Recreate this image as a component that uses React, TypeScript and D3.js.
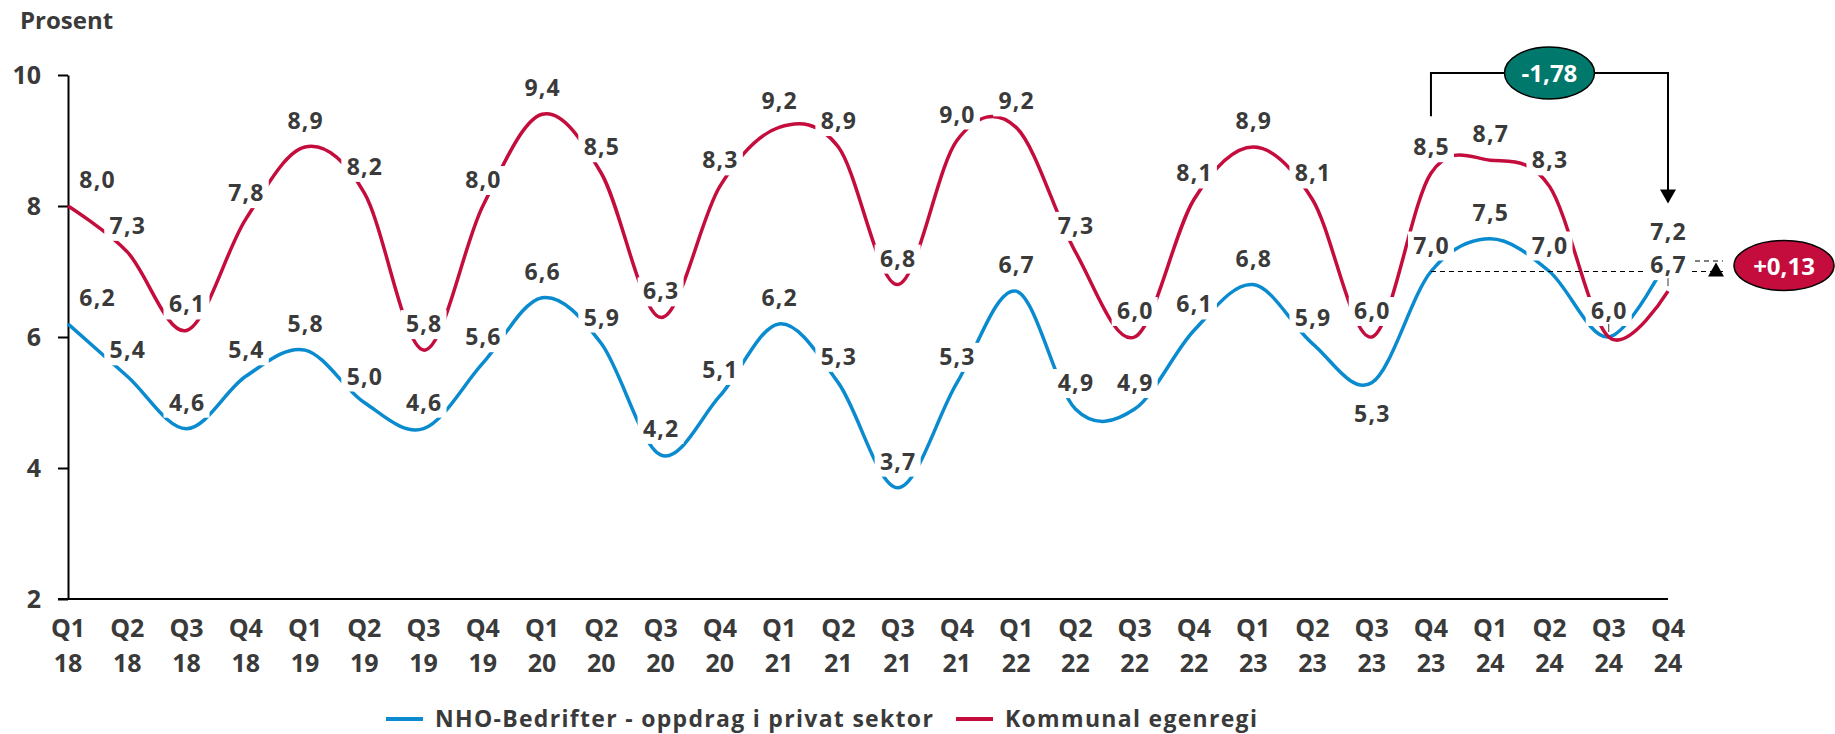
import { useEffect, useRef } from "react";
import * as d3 from "d3";

// ── Data ──────────────────────────────────────────────────────────────────
const categories = [
  "Q1 18", "Q2 18", "Q3 18", "Q4 18",
  "Q1 19", "Q2 19", "Q3 19", "Q4 19",
  "Q1 20", "Q2 20", "Q3 20", "Q4 20",
  "Q1 21", "Q2 21", "Q3 21", "Q4 21",
  "Q1 22", "Q2 22", "Q3 22", "Q4 22",
  "Q1 23", "Q2 23", "Q3 23", "Q4 23",
  "Q1 24", "Q2 24", "Q3 24", "Q4 24",
];

const nhoValues = [
  6.2, 5.4, 4.6, 5.4, 5.8, 5.0, 4.6, 5.6, 6.6, 5.9, 4.2, 5.1, 6.2, 5.3,
  3.7, 5.3, 6.7, 4.9, 4.9, 6.1, 6.8, 5.9, 5.3, 7.0, 7.5, 7.0, 6.0, 7.2,
];

const kommunalValues = [
  8.0, 7.3, 6.1, 7.8, 8.9, 8.2, 5.8, 8.0, 9.4, 8.5, 6.3, 8.3, 9.2, 8.9,
  6.8, 9.0, 9.2, 7.3, 6.0, 8.1, 8.9, 8.1, 6.0, 8.5, 8.7, 8.3, 6.0, 6.7,
];

const yTicks = [2, 4, 6, 8, 10];
const seriesNames = ["NHO-Bedrifter - oppdrag i privat sektor", "Kommunal egenregi"];
const kommunalChange = -1.78;
const nhoChange = 0.13;

// label placement tweaks (indices)
const nudgeRight = [0];
const nhoBelow = [22];

const BLUE = "#0a8bcf";
const RED = "#c40d3d";
const TEAL = "#00786b";
const TEXT = "#3a3a3a";
const FONT = "'Open Sans', 'Noto Sans', sans-serif";

const fmt = (v: number, d = 1) => v.toFixed(d).replace(".", ",");

export default function App() {
  const svgRef = useRef<SVGSVGElement>(null);

  useEffect(() => {
    if (!svgRef.current) return;
    const W = 1835;
    const H = 734;

    const svg = d3.select(svgRef.current);
    svg.selectAll("*").remove();
    svg.attr("viewBox", `0 0 ${W} ${H}`).style("font-family", FONT);

    const x = d3.scalePoint<string>().domain(categories).range([68, 1668]);
    const y = d3.scaleLinear().domain([2, 10]).range([599, 75]);

    // ── Axes ──────────────────────────────────────────────────────────────
    svg.append("g")
      .attr("transform", "translate(68,0)")
      .call(d3.axisLeft(y).tickValues(yTicks).tickSize(10).tickSizeOuter(0).tickPadding(17))
      .call((ax) => ax.select(".domain").attr("stroke", "#000").attr("stroke-width", 2))
      .call((ax) => ax.selectAll(".tick line").attr("stroke", "#000").attr("stroke-width", 2))
      .call((ax) => ax.selectAll("text")
        .attr("fill", TEXT).attr("font-size", 25).attr("font-weight", 700).attr("font-family", FONT));

    svg.append("line")
      .attr("x1", 58).attr("x2", x(categories[categories.length - 1])!)
      .attr("y1", y(2)).attr("y2", y(2))
      .attr("stroke", "#000").attr("stroke-width", 2);

    const xLabels = svg.append("g");
    categories.forEach((c) => {
      const [q, yr] = c.split(" ");
      const t = xLabels.append("text")
        .attr("x", x(c)!)
        .attr("text-anchor", "middle")
        .attr("fill", TEXT).attr("font-size", 25).attr("font-weight", 700);
      t.append("tspan").attr("x", x(c)!).attr("y", 637).text(q);
      t.append("tspan").attr("x", x(c)!).attr("y", 672).text(yr);
    });

    svg.append("text")
      .attr("x", 20).attr("y", 29)
      .attr("fill", TEXT).attr("font-size", 24).attr("font-weight", 700)
      .text("Prosent");

    // ── Lines ─────────────────────────────────────────────────────────────
    const line = d3.line<number>()
      .x((_, i) => x(categories[i])!)
      .y((d) => y(d))
      .curve(d3.curveCardinal.tension(0));

    svg.append("path").datum(nhoValues)
      .attr("fill", "none").attr("stroke", BLUE).attr("stroke-width", 3.5).attr("d", line);
    svg.append("path").datum(kommunalValues)
      .attr("fill", "none").attr("stroke", RED).attr("stroke-width", 3.5).attr("d", line);

    // ── Annotations (dashed guides) ───────────────────────────────────────
    const xQ423 = x(categories[23])!;
    const xLast = x(categories[27])!;
    const guideEnd = xLast + 55;
    svg.append("line")
      .attr("x1", xQ423).attr("x2", guideEnd)
      .attr("y1", y(nhoValues[23])).attr("y2", y(nhoValues[23]))
      .attr("stroke", "#000").attr("stroke-width", 1.2).attr("stroke-dasharray", "5 4");
    svg.append("line")
      .attr("x1", xLast).attr("x2", guideEnd)
      .attr("y1", y(nhoValues[23] + nhoChange) - 2).attr("y2", y(nhoValues[23] + nhoChange) - 2)
      .attr("stroke", "#000").attr("stroke-width", 1.2).attr("stroke-dasharray", "5 4");

    // ── Data labels ───────────────────────────────────────────────────────
    const drawLabels = (vals: number[], below: number[], skip: number[]) => {
      const g = svg.append("g");
      vals.forEach((v, i) => {
        if (skip.includes(i)) return;
        let cx = x(categories[i])!;
        let cy = y(v) - 26;
        if (nudgeRight.includes(i)) cx += 29;
        if (below.includes(i)) cy = y(v) + 31;
        g.append("rect")
          .attr("x", cx - 23).attr("y", cy - 14)
          .attr("width", 46).attr("height", 29)
          .attr("fill", "#fff");
        g.append("text")
          .attr("x", cx + 0.6).attr("y", cy + 8)
          .attr("text-anchor", "middle")
          .attr("fill", TEXT).attr("font-size", 23).attr("font-weight", 700)
          .attr("letter-spacing", 1.2)
          .text(fmt(v));
      });
    };
    drawLabels(nhoValues, nhoBelow, []);
    drawLabels(kommunalValues, [], [26]);

    // small leader lines
    [26, 27].forEach((i) => {
      const px = x(categories[i])!;
      const py = i === 26 ? y(nhoValues[i]) : y(kommunalValues[i]);
      svg.append("line")
        .attr("x1", px).attr("x2", px)
        .attr("y1", py - 13).attr("y2", py - 5)
        .attr("stroke", TEXT).attr("stroke-width", 1);
    });

    // ── Bracket for Kommunal change ───────────────────────────────────────
    const topY = y(10) - 2;
    const bracketStart = y(kommunalValues[23]) - 57;
    const arrowTip = y(nhoValues[27]) - 55;
    svg.append("path")
      .attr("d", `M${xQ423},${bracketStart} V${topY} H${xLast} V${arrowTip - 12}`)
      .attr("fill", "none").attr("stroke", "#000").attr("stroke-width", 2);
    svg.append("path")
      .attr("d", `M${xLast - 8},${arrowTip - 14} L${xLast + 8},${arrowTip - 14} L${xLast},${arrowTip} Z`)
      .attr("fill", "#000");

    const midX = (xQ423 + xLast) / 2;
    svg.append("ellipse")
      .attr("cx", midX).attr("cy", topY)
      .attr("rx", 45).attr("ry", 26)
      .attr("fill", TEAL).attr("stroke", "#000").attr("stroke-width", 1.5);
    svg.append("text")
      .attr("x", midX).attr("y", topY + 9)
      .attr("text-anchor", "middle")
      .attr("fill", "#fff").attr("font-size", 24).attr("font-weight", 700)
      .text(fmt(kommunalChange, 2));

    // ── Up arrow and NHO change badge ─────────────────────────────────────
    const triX = guideEnd - 7;
    const triBase = y(nhoValues[23]) + 5;
    svg.append("path")
      .attr("d", `M${triX - 8},${triBase} L${triX + 8},${triBase} L${triX},${triBase - 14} Z`)
      .attr("fill", "#000");

    const badgeX = guideEnd + 61;
    const badgeY = y(nhoValues[23]) - 6;
    svg.append("ellipse")
      .attr("cx", badgeX).attr("cy", badgeY)
      .attr("rx", 50).attr("ry", 25)
      .attr("fill", RED).attr("stroke", "#000").attr("stroke-width", 1.5);
    svg.append("text")
      .attr("x", badgeX).attr("y", badgeY + 9)
      .attr("text-anchor", "middle")
      .attr("fill", "#fff").attr("font-size", 24).attr("font-weight", 700)
      .text("+" + fmt(nhoChange, 2));

    // ── Legend ────────────────────────────────────────────────────────────
    const legend = svg.append("g").attr("transform", "translate(0,719)");
    const items = [
      { name: seriesNames[0], color: BLUE, x: 386 },
      { name: seriesNames[1], color: RED, x: 956 },
    ];
    items.forEach((it) => {
      legend.append("line")
        .attr("x1", it.x).attr("x2", it.x + 37)
        .attr("y1", 0).attr("y2", 0)
        .attr("stroke", it.color).attr("stroke-width", 4);
      legend.append("text")
        .attr("x", it.x + 49).attr("y", 8)
        .attr("fill", TEXT).attr("font-size", 23).attr("font-weight", 700)
        .attr("letter-spacing", 1.3)
        .text(it.name);
    });
  }, []);

  return (
    <div style={{ position: "absolute", left: 0, top: 0, width: 1835, height: 734, background: "#fff" }}>
      <svg ref={svgRef} width={1835} height={734} style={{ display: "block" }} />
    </div>
  );
}
